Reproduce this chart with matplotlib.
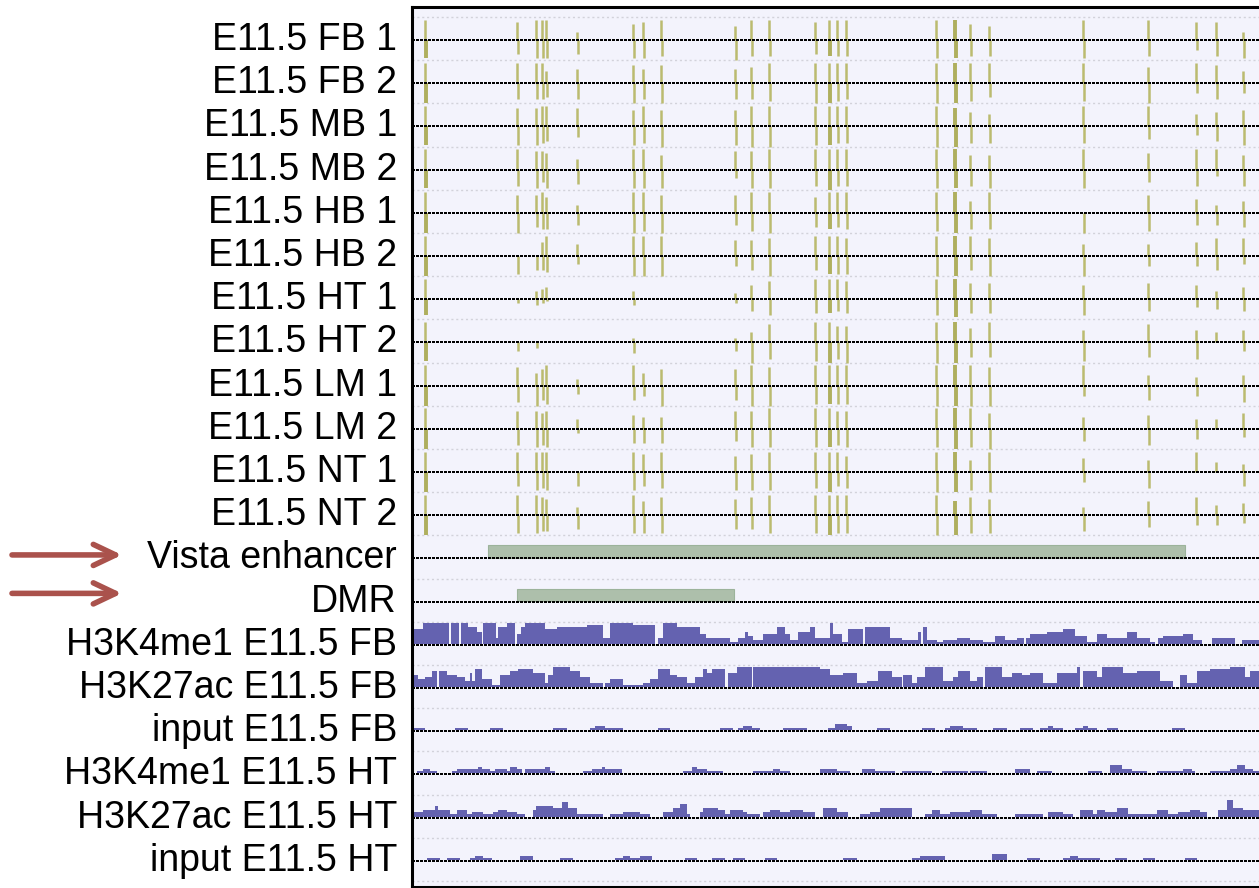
import matplotlib.pyplot as plt
from matplotlib.transforms import blended_transform_factory

# ------------------ DATA ------------------
track_labels = [
    "E11.5 FB 1", "E11.5 FB 2", "E11.5 MB 1", "E11.5 MB 2",
    "E11.5 HB 1", "E11.5 HB 2", "E11.5 HT 1", "E11.5 HT 2",
    "E11.5 LM 1", "E11.5 LM 2", "E11.5 NT 1", "E11.5 NT 2",
    "Vista enhancer", "DMR",
    "H3K4me1 E11.5 FB", "H3K27ac E11.5 FB", "input E11.5 FB",
    "H3K4me1 E11.5 HT", "H3K27ac E11.5 HT", "input E11.5 HT",
]

# CpG positions (bp from window start)
cpg_pos = [130, 1050, 1240, 1300, 1340, 1650, 2210, 2310, 2490, 3230, 3390, 3570,
           4030, 4170, 4250, 4340, 5240, 5430, 5580, 5770, 6710, 7360, 7840, 8040, 8310]

# methylation level (0-10), forward strand (up) and reverse strand (down), one row per sample
meth_up = [
    [10, 9, 10, 10, 10, 4, 8, 9, 10, 7, 10, 10, 9, 10, 10, 10, 10, 10, 8, 7, 10, 10, 9, 9, 4],
    [10, 10, 10, 10, 6, 7, 9, 7, 9, 7, 8, 10, 10, 10, 10, 10, 10, 10, 10, 10, 10, 8, 10, 9, 6],
    [10, 9, 9, 10, 10, 9, 8, 10, 8, 8, 10, 10, 10, 10, 10, 10, 10, 9, 7, 6, 10, 10, 6, 7, 8],
    [10, 10, 9, 9, 8, 5, 10, 10, 7, 9, 9, 10, 10, 10, 10, 10, 10, 10, 7, 7, 10, 8, 10, 10, 7],
    [10, 9, 9, 10, 8, 4, 10, 10, 9, 9, 10, 10, 8, 10, 10, 10, 10, 10, 6, 10, 0, 9, 7, 4, 6],
    [10, 0, 0, 7, 10, 6, 10, 10, 10, 8, 8, 9, 10, 10, 10, 9, 10, 10, 10, 9, 6, 6, 7, 9, 9],
    [10, 0, 4, 5, 6, 0, 4, 0, 0, 3, 7, 9, 10, 10, 10, 9, 10, 10, 8, 8, 7, 8, 7, 4, 6],
    [10, 0, 0, 0, 0, 0, 2, 0, 0, 2, 5, 9, 10, 10, 8, 8, 10, 10, 7, 10, 6, 9, 6, 5, 6],
    [10, 9, 6, 8, 10, 3, 10, 6, 8, 8, 10, 9, 10, 10, 10, 10, 10, 10, 10, 9, 10, 5, 4, 0, 5],
    [10, 9, 9, 8, 9, 5, 7, 6, 6, 9, 9, 10, 10, 10, 9, 9, 10, 10, 10, 8, 6, 7, 5, 5, 8],
    [10, 10, 10, 10, 10, 0, 10, 9, 10, 8, 9, 10, 10, 10, 10, 8, 10, 10, 6, 10, 7, 6, 10, 5, 4],
    [10, 10, 10, 9, 8, 4, 10, 7, 9, 8, 9, 10, 10, 10, 10, 10, 10, 7, 9, 8, 4, 7, 9, 5, 6],
]
meth_down = [
    [9, 7, 9, 9, 9, 7, 9, 9, 8, 10, 8, 8, 7, 8, 8, 8, 9, 9, 8, 8, 9, 8, 5, 8, 9],
    [10, 8, 8, 8, 7, 8, 10, 8, 10, 8, 8, 9, 10, 10, 9, 8, 10, 10, 9, 7, 9, 10, 5, 8, 5],
    [9, 9, 9, 8, 7, 5, 9, 8, 10, 9, 10, 10, 9, 9, 8, 8, 10, 10, 8, 8, 8, 6, 4, 7, 9],
    [9, 8, 9, 6, 9, 7, 9, 9, 9, 4, 9, 9, 8, 10, 8, 8, 9, 9, 8, 9, 9, 6, 8, 3, 8],
    [10, 10, 7, 8, 8, 6, 10, 9, 10, 6, 9, 10, 7, 8, 7, 8, 9, 10, 8, 8, 10, 9, 6, 6, 7],
    [10, 9, 7, 7, 8, 4, 10, 10, 10, 5, 7, 10, 7, 9, 9, 9, 10, 10, 7, 10, 10, 5, 5, 7, 4],
    [8, 2, 3, 2, 1, 0, 3, 0, 0, 2, 6, 8, 7, 7, 6, 7, 8, 9, 7, 7, 8, 6, 4, 5, 6],
    [9, 4, 3, 0, 0, 0, 5, 0, 0, 4, 10, 8, 9, 10, 8, 10, 10, 10, 7, 7, 9, 7, 8, 0, 4],
    [10, 8, 10, 7, 9, 4, 7, 5, 10, 7, 10, 10, 9, 9, 9, 9, 10, 10, 10, 10, 5, 7, 5, 0, 8],
    [10, 8, 9, 8, 9, 2, 7, 7, 7, 6, 9, 9, 9, 9, 8, 9, 9, 10, 9, 10, 6, 8, 5, 0, 4],
    [10, 7, 9, 8, 9, 7, 9, 7, 8, 9, 9, 9, 8, 10, 7, 8, 10, 10, 9, 10, 5, 8, 0, 0, 7],
    [10, 9, 9, 8, 8, 7, 9, 9, 9, 7, 7, 9, 9, 10, 9, 9, 10, 10, 9, 9, 8, 6, 5, 5, 4],
]

vista_region = (760, 7730)
dmr_region = (1050, 3220)

# ChIP-seq signal as steps: segment start (bp) and height (0-10)
k4me1_fb_x = [10, 110, 370, 390, 470, 490, 560, 650, 700, 710, 840, 860, 950, 1030, 1050, 1090,
              1130, 1330, 1450, 1750, 1910, 1980, 2210, 2430, 2460, 2510, 2650, 2880, 2940, 3180,
              3260, 3330, 3360, 3410, 3510, 3650, 3730, 3780, 3860, 3980, 4030, 4180, 4210, 4300,
              4360, 4510, 4530, 4780, 4900, 5060, 5090, 5110, 5150, 5250, 5310, 5450, 5580, 5710,
              5830, 5930, 6050, 6120, 6140, 6180, 6350, 6510, 6630, 6750, 6850, 6950, 7150, 7250,
              7380, 7430, 7460, 7510, 7710, 7810, 7900, 8000, 8230, 8300]
k4me1_fb_h = [7, 10, 0, 10, 0, 10, 8, 6, 0, 10, 3, 8, 10, 0, 5, 8,
              10, 7, 8, 9, 3, 10, 9, 0, 3, 10, 8, 5, 3, 1,
              3, 6, 4, 2, 5, 8, 5, 2, 6, 8, 3, 10, 5, 1,
              7, 0, 8, 3, 2, 6, 0, 8, 2, 1, 2, 3, 2, 1,
              4, 2, 3, 0, 3, 5, 6, 7, 4, 1, 5, 3, 6, 3,
              1, 0, 3, 4, 5, 2, 0, 3, 0, 2]

k27ac_fb_x = [10, 60, 130, 200, 250, 270, 350, 450, 530, 580, 600, 630, 700, 800, 880, 980,
              1060, 1210, 1330, 1360, 1410, 1580, 1680, 1780, 1910, 1930, 1980, 2110, 2310, 2380,
              2460, 2580, 2650, 2750, 2830, 2910, 2950, 3000, 3130, 3160, 3250, 3400, 3410, 4080,
              4180, 4310, 4450, 4550, 4660, 4800, 4900, 4910, 5000, 5050, 5130, 5310, 5410, 5460,
              5580, 5650, 5710, 5730, 5900, 6000, 6100, 6180, 6310, 6450, 6650, 6680, 6710, 6850,
              6900, 7110, 7250, 7480, 7610, 7680, 7750, 7850, 7980, 8180, 8330, 8380]
k27ac_fb_h = [6, 4, 5, 8, 0, 8, 6, 5, 3, 7, 3, 9, 4, 1, 6, 8,
              9, 7, 2, 6, 10, 8, 5, 2, 0, 2, 4, 1, 2, 4,
              9, 6, 5, 2, 5, 9, 7, 9, 0, 7, 10, 0, 10, 9,
              6, 7, 2, 3, 8, 5, 0, 6, 2, 5, 10, 3, 5, 8,
              3, 5, 0, 10, 5, 7, 6, 7, 2, 7, 10, 0, 8, 5,
              10, 7, 8, 3, 0, 6, 2, 8, 9, 10, 5, 8]

input_fb_x = [10, 130, 430, 560, 780, 910, 1410, 1550, 1780, 1830, 1930, 2110, 2460, 2580,
              3080, 3210, 3260, 3310, 3400, 3480, 3710, 3950, 4160, 4230, 4350, 4400, 4650, 4780,
              5100, 5230, 5330, 5380, 5510, 5650, 5810, 5950, 6080, 6210, 6280, 6360, 6410, 6510,
              6630, 6710, 6760, 6850, 6950, 7060, 7600, 7730]
input_fb_h = [1, 0, 1, 0, 1, 0, 1, 0, 1, 2, 1, 0, 1, 0,
              1, 0, 1, 2, 1, 0, 1, 0, 1, 3, 2, 0, 1, 0,
              1, 0, 1, 2, 1, 0, 1, 0, 1, 0, 1, 2, 1, 0,
              1, 2, 1, 0, 1, 0, 1, 0]

k4me1_ht_x = [50, 110, 180, 250, 400, 450, 660, 700, 780, 830, 950, 980, 1050, 1100, 1130, 1330,
              1380, 1430, 1710, 1800, 1900, 1930, 2100, 2710, 2800, 2850, 2950, 3110, 3410, 3610,
              3680, 3780, 4080, 4250, 4380, 4500, 4630, 4830, 4900, 5200, 5300, 5560, 5580, 5750,
              6030, 6180, 6250, 6400, 6760, 6900, 6980, 7100, 7200, 7350, 7450, 7710, 7800, 7830,
              7980, 8180, 8250, 8330, 8410]
k4me1_ht_h = [1, 2, 1, 0, 1, 2, 3, 2, 1, 2, 1, 3, 2, 0, 2, 3,
              1, 0, 1, 2, 3, 2, 0, 1, 3, 2, 1, 0, 1, 2,
              1, 0, 2, 1, 0, 2, 1, 0, 1, 0, 1, 0, 1, 0,
              2, 0, 1, 0, 1, 0, 4, 2, 1, 0, 1, 2, 1, 0,
              1, 2, 4, 2, 1]

k27ac_ht_x = [10, 110, 230, 260, 380, 450, 550, 600, 710, 810, 860, 950, 1050, 1130, 1210, 1240,
              1410, 1500, 1560, 1650, 1910, 1980, 2110, 2280, 2380, 2510, 2610, 2680, 2750, 2780,
              2880, 2910, 3060, 3130, 3180, 3310, 3350, 3480, 3510, 3580, 3680, 3780, 3910, 4030,
              4110, 4250, 4360, 4480, 4580, 4680, 5000, 5130, 5200, 5280, 5380, 5580, 5700, 5850,
              6030, 6310, 6360, 6510, 6610, 6680, 6810, 6850, 6930, 7050, 7160, 7450, 7560, 7660,
              7780, 7880, 7950, 8060, 8150, 8210, 8310]
k27ac_ht_h = [2, 3, 5, 3, 1, 3, 1, 2, 1, 2, 3, 2, 1, 0, 3, 5,
              4, 7, 4, 1, 0, 1, 2, 1, 0, 2, 4, 6, 1, 0,
              2, 4, 3, 1, 3, 2, 1, 0, 2, 3, 2, 3, 2, 0,
              4, 2, 0, 1, 2, 4, 0, 1, 3, 1, 2, 3, 1, 0,
              1, 0, 2, 1, 0, 3, 1, 3, 2, 4, 1, 3, 1, 2,
              3, 2, 0, 3, 8, 4, 3]

input_ht_x = [150, 280, 350, 480, 580, 630, 710, 800, 1080, 1210, 1480, 1610, 2030, 2110, 2180,
              2280, 2400, 2730, 2850, 3000, 3130, 3210, 3330, 3530, 3650, 4310, 4450, 5000, 5080,
              5330, 5800, 5950, 6150, 6280, 6510, 6580, 6660, 6880, 7030, 7150, 7310, 7430, 7730,
              7850]
input_ht_h = [1, 0, 1, 0, 1, 2, 1, 0, 2, 0, 1, 0, 1, 2, 1,
              2, 0, 1, 0, 1, 0, 1, 0, 1, 0, 1, 0, 1, 2,
              0, 3, 0, 1, 0, 1, 2, 1, 0, 1, 0, 1, 0, 1,
              0]

# ------------------ STYLE ------------------
W, H = 1259, 888
bg_color = "#F3F3FC"
meth_color = "#BBBB6F"
meth_dark = "#AFAF5E"
chip_color = "#6462B0"
box_color = "#ADBFAB"
box_edge = "#9CB39B"
arrow_color = "#AA524C"
unit = 0.047          # track units per signal step (10 -> almost half a track)
x_end = 8600

fig = plt.figure(figsize=(W / 100, H / 100), dpi=100)
ax = fig.add_axes([411.5 / W, 1.5 / H, 1 - 411.5 / W + 0.01, 880 / H])
ax.set_facecolor(bg_color)
ax.set_xlim(-5, x_end)
ax.set_ylim(19.595, -0.775)
ax.set_xticks([])
ax.set_yticks([])
for side in ["left", "top", "bottom"]:
    ax.spines[side].set_linewidth(2.2)
    ax.spines[side].set_color("black")
ax.spines["right"].set_visible(False)

n_tracks = len(track_labels)

# light grey separators between tracks
for i in range(n_tracks + 1):
    ax.axhline(i - 0.53, color="#D2D2DA", lw=1.0, linestyle=(0, (1.5, 2)), zorder=1)

# methylation bars (up = + strand, down = - strand)
thick_up = {17}
thick_down = {0, 13, 17}
for row in range(len(meth_up)):
    for j, x in enumerate(cpg_pos):
        u = meth_up[row][j]
        d = meth_down[row][j]
        if u > 0:
            ax.vlines(x, row - u * unit, row, colors=meth_dark if j in thick_up else meth_color,
                      lw=2.8 if j in thick_up else 1.8, zorder=2)
        if d > 0:
            ax.vlines(x + 15, row, row + d * unit, colors=meth_dark if j in thick_down else meth_color,
                      lw=2.8 if j in thick_down else 1.8, zorder=2)

# Vista enhancer and DMR boxes
for row, (start, end) in [(12, vista_region), (13, dmr_region)]:
    ax.add_patch(plt.Rectangle((start, row - 0.3), end - start, 0.28,
                               facecolor=box_color, edgecolor=box_edge, lw=0.8, zorder=2))

# ChIP-seq tracks
chip_tracks = [
    (14, k4me1_fb_x, k4me1_fb_h),
    (15, k27ac_fb_x, k27ac_fb_h),
    (16, input_fb_x, input_fb_h),
    (17, k4me1_ht_x, k4me1_ht_h),
    (18, k27ac_ht_x, k27ac_ht_h),
    (19, input_ht_x, input_ht_h),
]
for row, xs, hs in chip_tracks:
    base = row - 0.025
    xx = list(xs) + [x_end]
    yy = [base - h * unit for h in hs] + [base - hs[-1] * unit]
    ax.fill_between(xx, base, yy, step="post", color=chip_color, lw=0, zorder=2)

# black dotted centre lines
for i in range(n_tracks):
    ax.hlines(i, -5, x_end, colors="black", lw=1.5, linestyles=(0, (1, 0.5)),
              antialiased=False, zorder=3)

# track labels
trans = blended_transform_factory(fig.transFigure, ax.transData)
for i, lab in enumerate(track_labels):
    ax.text(397 / W, i + 0.23, lab, transform=trans, ha="right", va="baseline",
            fontsize=27, family="Liberation Sans", color="black", clip_on=False)

# arrows pointing at Vista enhancer and DMR
for y in [12 - 0.08, 13 - 0.19]:
    ax.annotate("", xy=(122 / W, y), xytext=(12 / W, y), xycoords=trans, textcoords=trans,
                arrowprops=dict(arrowstyle="->, head_length=0.8, head_width=0.38",
                                lw=4, color=arrow_color, mutation_scale=20,
                                shrinkA=0, shrinkB=0),
                annotation_clip=False)

fig.savefig("out.png", dpi=100, facecolor="white")
